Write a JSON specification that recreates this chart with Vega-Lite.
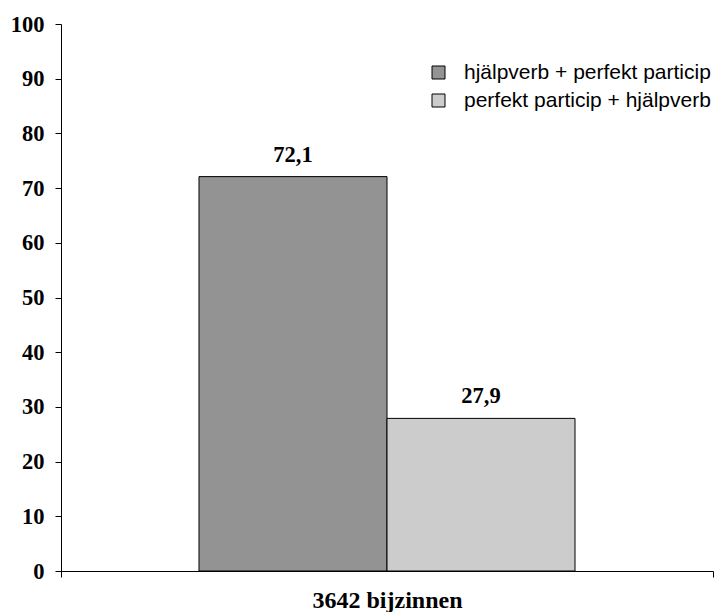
{
  "$schema": "https://vega.github.io/schema/vega-lite/v6.json",
  "width": 652,
  "height": 547,
  "autosize": "none",
  "padding": {"left": 61, "top": 24, "right": 6, "bottom": 41},
  "background": "white",
  "config": {"view": {"stroke": null}},
  "data": {"values": [
    {"group": "3642 bijzinnen", "serie": "hjälpverb + perfekt particip", "value": 72.1, "label": "72,1"},
    {"group": "3642 bijzinnen", "serie": "perfekt particip + hjälpverb", "value": 27.9, "label": "27,9"}
  ]},
  "encoding": {
    "x": {"field": "group", "type": "nominal", "title": null,
      "scale": {"paddingInner": 0, "paddingOuter": 0},
      "axis": {"tickBand": "extent", "labelAngle": 0, "labelFont": "Liberation Serif", "labelFontWeight": "bold", "labelFontSize": 24, "labelColor": "black", "labelPadding": 11, "domainColor": "black", "tickColor": "black", "tickSize": 6, "grid": false}},
    "xOffset": {"field": "serie", "type": "nominal", "scale": {"paddingInner": 0, "paddingOuter": 0.734}},
    "y": {"field": "value", "type": "quantitative", "title": null,
      "scale": {"domain": [0, 100], "nice": false},
      "axis": {"values": [0,10,20,30,40,50,60,70,80,90,100], "grid": false, "labelFont": "Liberation Serif", "labelFontWeight": "bold", "labelFontSize": 22.5, "labelColor": "black", "labelPadding": 11, "domainColor": "black", "tickColor": "black", "tickSize": 6}}
  },
  "layer": [
    {
      "mark": {"type": "bar", "stroke": "black", "strokeWidth": 1},
      "encoding": {
        "fill": {"field": "serie", "type": "nominal",
          "scale": {"range": ["#939393", "#cccccc"]},
          "legend": {"title": null, "orient": "none", "legendX": 367, "legendY": 38,
            "symbolType": "square", "symbolSize": 169, "symbolStrokeColor": "black", "symbolStrokeWidth": 1,
            "labelFont": "Liberation Sans", "labelFontSize": 21, "labelColor": "black", "labelLimit": 400,
            "rowPadding": 6, "labelOffset": 15}}
      }
    },
    {
      "mark": {"type": "text", "baseline": "alphabetic", "dy": -15, "font": "Liberation Serif", "fontWeight": "bold", "fontSize": 22.5, "color": "black"},
      "encoding": {"text": {"field": "label"}}
    }
  ]
}
